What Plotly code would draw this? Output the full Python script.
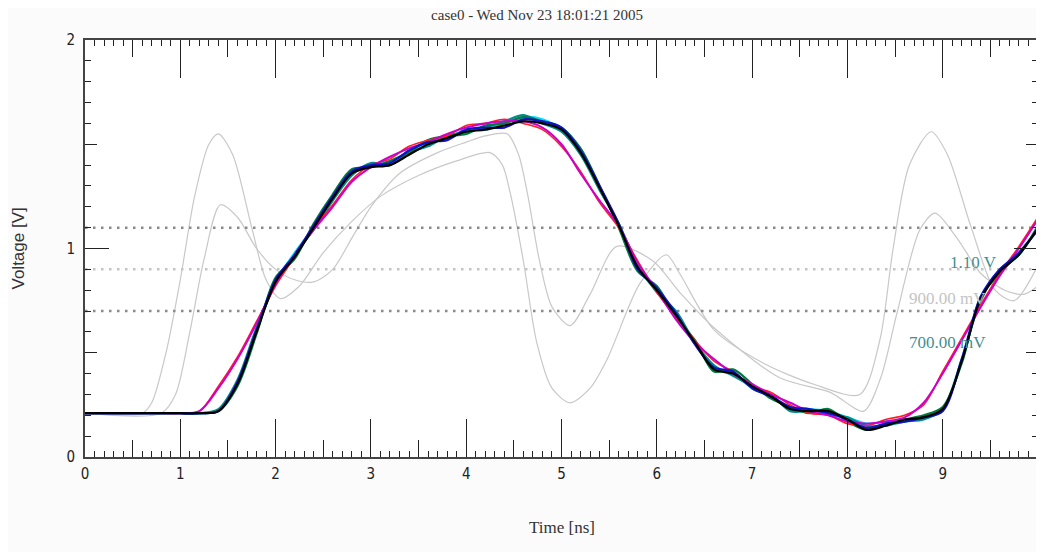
import plotly.graph_objects as go

# ---------------- data ----------------
title_text = "case0 - Wed Nov 23 18:01:21 2005"

T = [0.0, 0.2, 0.4, 0.6, 0.8, 1.0, 1.2, 1.4, 1.6, 1.8, 2.0, 2.2, 2.4, 2.6, 2.8, 3.0,
     3.2, 3.4, 3.6, 3.8, 4.0, 4.2, 4.4, 4.6, 4.8, 5.0, 5.2, 5.4, 5.6, 5.8, 6.0, 6.2,
     6.4, 6.6, 6.8, 7.0, 7.2, 7.4, 7.6, 7.8, 8.0, 8.2, 8.4, 8.6, 8.8, 9.0, 9.2, 9.4,
     9.6, 9.8, 10.0]

black = [0.21, 0.21, 0.21, 0.21, 0.21, 0.21, 0.21, 0.22, 0.35, 0.60, 0.84, 0.96, 1.10,
         1.24, 1.36, 1.39, 1.40, 1.45, 1.50, 1.53, 1.56, 1.57, 1.59, 1.61, 1.60, 1.57,
         1.46, 1.29, 1.11, 0.91, 0.80, 0.68, 0.55, 0.42, 0.40, 0.34, 0.29, 0.23, 0.22,
         0.22, 0.18, 0.13, 0.15, 0.18, 0.19, 0.23, 0.46, 0.76, 0.89, 0.97, 1.10]
blue = [0.21, 0.21, 0.21, 0.21, 0.21, 0.21, 0.21, 0.22, 0.36, 0.61, 0.85, 0.97, 1.11,
        1.25, 1.37, 1.40, 1.41, 1.47, 1.51, 1.52, 1.57, 1.58, 1.58, 1.62, 1.61, 1.58,
        1.47, 1.30, 1.12, 0.90, 0.81, 0.69, 0.54, 0.43, 0.41, 0.33, 0.29, 0.24, 0.23,
        0.21, 0.18, 0.14, 0.16, 0.17, 0.19, 0.22, 0.47, 0.77, 0.90, 0.98, 1.09]
green = [0.21, 0.21, 0.21, 0.21, 0.21, 0.21, 0.21, 0.22, 0.34, 0.59, 0.86, 0.95, 1.12,
         1.26, 1.38, 1.39, 1.42, 1.46, 1.52, 1.54, 1.55, 1.59, 1.60, 1.63, 1.61, 1.58,
         1.48, 1.30, 1.10, 0.89, 0.82, 0.67, 0.56, 0.41, 0.42, 0.35, 0.28, 0.24, 0.21,
         0.23, 0.17, 0.13, 0.16, 0.18, 0.20, 0.24, 0.45, 0.77, 0.88, 0.98, 1.09]
teal = [0.21, 0.21, 0.21, 0.21, 0.21, 0.21, 0.21, 0.23, 0.37, 0.62, 0.83, 0.97, 1.09,
        1.23, 1.35, 1.41, 1.40, 1.46, 1.49, 1.54, 1.56, 1.58, 1.61, 1.64, 1.60, 1.56,
        1.45, 1.28, 1.12, 0.92, 0.79, 0.70, 0.55, 0.44, 0.39, 0.34, 0.30, 0.22, 0.22,
        0.21, 0.19, 0.15, 0.15, 0.17, 0.18, 0.23, 0.47, 0.75, 0.90, 0.97, 1.11]
cyan = [0.21, 0.21, 0.21, 0.21, 0.21, 0.21, 0.21, 0.22, 0.36, 0.61, 0.84, 0.98, 1.10,
        1.24, 1.36, 1.40, 1.42, 1.46, 1.51, 1.53, 1.57, 1.57, 1.60, 1.63, 1.62, 1.57,
        1.46, 1.29, 1.11, 0.91, 0.80, 0.69, 0.55, 0.43, 0.40, 0.33, 0.29, 0.24, 0.23,
        0.22, 0.19, 0.16, 0.17, 0.18, 0.19, 0.23, 0.46, 0.76, 0.89, 0.97, 1.10]
magenta = [0.21, 0.21, 0.21, 0.21, 0.21, 0.21, 0.22, 0.33, 0.47, 0.64, 0.83, 0.97, 1.09,
           1.20, 1.32, 1.39, 1.44, 1.48, 1.51, 1.55, 1.58, 1.60, 1.61, 1.61, 1.58, 1.50,
           1.36, 1.23, 1.11, 0.93, 0.80, 0.66, 0.55, 0.47, 0.40, 0.35, 0.30, 0.26, 0.22,
           0.20, 0.17, 0.16, 0.17, 0.19, 0.26, 0.40, 0.56, 0.72, 0.87, 1.00, 1.14]
red = [0.21, 0.21, 0.21, 0.21, 0.21, 0.21, 0.22, 0.34, 0.48, 0.65, 0.82, 0.96, 1.10,
       1.21, 1.33, 1.40, 1.43, 1.49, 1.52, 1.54, 1.59, 1.60, 1.62, 1.60, 1.57, 1.49,
       1.37, 1.22, 1.10, 0.94, 0.79, 0.67, 0.56, 0.46, 0.41, 0.34, 0.31, 0.25, 0.21,
       0.20, 0.16, 0.15, 0.18, 0.20, 0.25, 0.41, 0.57, 0.73, 0.88, 1.01, 1.15]

# two strongly ringing (grey) waveforms
grayA_t = [0.0, 0.6, 0.7, 0.85, 1.0, 1.15, 1.3, 1.4, 1.55, 1.75, 1.9, 2.05, 2.25, 2.5,
           2.8, 3.1, 3.5, 3.9, 4.25, 4.38, 4.46, 4.6, 4.74, 4.9, 5.09, 5.3, 5.48, 5.82,
           6.1, 6.24, 6.6, 7.12, 7.64, 8.13, 8.34, 8.48, 8.65, 8.88, 9.05, 9.3, 9.55,
           9.75, 10.0]
grayA_v = [0.21, 0.21, 0.26, 0.50, 0.85, 1.25, 1.50, 1.55, 1.45, 1.10, 0.85, 0.76, 0.82,
           0.98, 1.13, 1.25, 1.35, 1.42, 1.46, 1.40, 1.27, 0.94, 0.55, 0.33, 0.26, 0.33,
           0.47, 0.83, 0.97, 0.88, 0.61, 0.45, 0.35, 0.30, 0.56, 1.00, 1.40, 1.56, 1.45,
           1.10, 0.80, 0.75, 0.92]
grayB_t = [0.0, 0.8, 0.95, 1.1, 1.25, 1.42, 1.6, 1.8, 2.0, 2.2, 2.4, 2.6, 2.8, 3.0,
           3.3, 3.7, 4.0, 4.2, 4.43, 4.55, 4.64, 4.77, 4.9, 5.09, 5.3, 5.58, 5.96, 6.24,
           6.6, 7.29, 7.82, 8.17, 8.35, 8.52, 8.76, 8.92, 9.15, 9.4, 9.65, 9.85, 10.0]
grayB_v = [0.21, 0.21, 0.30, 0.60, 0.95, 1.21, 1.15, 1.00, 0.90, 0.85, 0.84, 0.90, 1.05,
           1.20, 1.36, 1.46, 1.51, 1.54, 1.55, 1.45, 1.27, 0.94, 0.72, 0.63, 0.78, 1.01,
           0.94, 0.79, 0.62, 0.38, 0.31, 0.22, 0.38, 0.69, 1.09, 1.17, 1.05, 0.88, 0.80,
           0.78, 0.82]

thresholds = [1.10, 0.90, 0.70]
threshold_labels = ["1.10 V", "900.00 mV", "700.00 mV"]
threshold_colors = ["#8a8a8a", "#c4c4c4", "#8a8a8a"]
label_colors = ["#3f8f92", "#c4c4c4", "#3f8f92"]
label_x = [9.32, 9.05, 9.05]
label_y = [0.935, 0.76, 0.55]

x_labels = [str(i) for i in range(11)]
y_labels = ["0", "1", "2"]

# ---------------- figure ----------------
# the page body has an 8px default margin, so the figure is 8px smaller
W, H = 1036, 544

fig = go.Figure()

for tv, vv in [(grayA_t, grayA_v), (grayB_t, grayB_v)]:
    fig.add_trace(go.Scatter(x=tv, y=vv, mode="lines",
                             line=dict(color="#c8c8c8", width=1.2, shape="spline", smoothing=0.8),
                             hoverinfo="skip", showlegend=False))

for yv, col in zip(thresholds, threshold_colors):
    fig.add_trace(go.Scatter(x=[0, 10], y=[yv, yv], mode="lines",
                             line=dict(color=col, width=2.5, dash="2.5px,5.5px"),
                             hoverinfo="skip", showlegend=False))

series = [(cyan, "#00e0ff", 2.2), (teal, "#008b8b", 2.2), (green, "#007a3d", 2.2),
          (red, "#ff2020", 1.6), (magenta, "#cc00cc", 2), (blue, "#1010c8", 2.2),
          (black, "#000000", 2.2)]
for vals, col, w in series:
    fig.add_trace(go.Scatter(x=T, y=vals, mode="lines",
                             line=dict(color=col, width=w, shape="spline", smoothing=0.9),
                             hoverinfo="skip", showlegend=False))

# invisible trace carrying the secondary (mid-tick) axes
fig.add_trace(go.Scatter(x=[0, 10], y=[0, 2], xaxis="x2", yaxis="y2", mode="markers",
                         marker=dict(opacity=0), hoverinfo="skip", showlegend=False))

for txt, lx, ly, col in zip(threshold_labels, label_x, label_y, label_colors):
    fig.add_annotation(x=lx, y=ly, text=txt, showarrow=False,
                       font=dict(family="Liberation Serif, serif", size=17, color=col))

# axis titles placed as paper annotations
fig.add_annotation(x=0.5, y=0, yshift=-70, xref="paper", yref="paper",
                   xanchor="center", yanchor="middle", showarrow=False,
                   text="Time [ns]",
                   font=dict(family="Liberation Serif, serif", size=17, color="#333"))
fig.add_annotation(xref="paper", yref="paper", x=0, y=0.5, xshift=-67,
                   textangle=-90, showarrow=False, text="Voltage [V]",
                   xanchor="center", yanchor="middle",
                   font=dict(family="Liberation Sans, Arial, sans-serif", size=17,
                             color="#333"))

tickfont = dict(family="Liberation Sans Narrow, DejaVu Sans Condensed, sans-serif",
                size=15, color="#222")

fig.update_layout(
    width=W, height=H,
    margin=dict(l=77, r=6, t=32, b=95, autoexpand=False),
    paper_bgcolor="#fbfbfb", plot_bgcolor="#ffffff",
    title=dict(text=title_text, x=529 / W, xanchor="center", xref="container",
               y=1, yanchor="top", pad=dict(t=1),
               font=dict(family="Liberation Serif, serif", size=15, color="#333")),
    xaxis=dict(range=[0, 10], tickvals=list(range(11)), ticktext=x_labels,
               ticks="inside", ticklen=38, tickwidth=1.3, tickcolor="#222",
               showline=True, linecolor="#444", linewidth=2, mirror="ticks",
               showgrid=False, zeroline=False, tickfont=tickfont, ticklabelstandoff=2,
               automargin=False,
               minor=dict(dtick=0.1, ticks="inside", ticklen=6, tickwidth=1.2,
                          tickcolor="#222", showgrid=False)),
    yaxis=dict(range=[0, 2], tickvals=[0, 1, 2], ticktext=y_labels,
               ticks="inside", ticklen=24, tickwidth=1.3, tickcolor="#222",
               showline=True, linecolor="#444", linewidth=2, mirror="ticks",
               showgrid=False, zeroline=False, tickfont=tickfont, ticklabelstandoff=5,
               automargin=False,
               minor=dict(dtick=0.1, ticks="inside", ticklen=6, tickwidth=1.2,
                          tickcolor="#222", showgrid=False)),
    xaxis2=dict(overlaying="x", range=[0, 10],
                tickvals=[0.5, 1.5, 2.5, 3.5, 4.5, 5.5, 6.5, 7.5, 8.5, 9.5],
                ticks="inside", ticklen=17, tickwidth=1.3, tickcolor="#222",
                showticklabels=False, showgrid=False, zeroline=False, automargin=False,
                showline=False, mirror="ticks", side="bottom"),
    yaxis2=dict(overlaying="y", range=[0, 2], tickvals=[0.5, 1.5],
                ticks="inside", ticklen=12, tickwidth=1.3, tickcolor="#222",
                showticklabels=False, showgrid=False, zeroline=False, automargin=False,
                showline=False, mirror="ticks", side="left"),
)

fig.write_html("out.html")
